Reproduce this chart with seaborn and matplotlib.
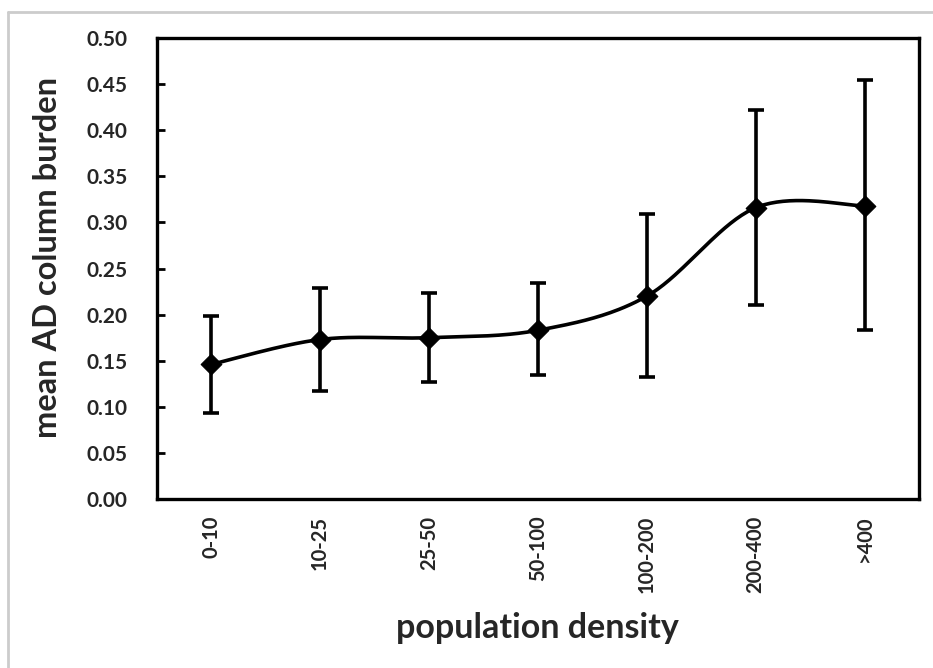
import numpy as np
import pandas as pd
import matplotlib
matplotlib.use("Agg")
import matplotlib.pyplot as plt
from matplotlib.lines import Line2D
import seaborn as sns

categories = ["0-10", "10-25", "25-50", "50-100", "100-200", "200-400", ">400"]
mean_burden = [0.146, 0.173, 0.175, 0.183, 0.220, 0.316, 0.318]
err_upper = [0.199, 0.229, 0.224, 0.234, 0.309, 0.422, 0.454]
err_lower = [0.093, 0.117, 0.127, 0.135, 0.132, 0.210, 0.183]
y_ticks = [0.00, 0.05, 0.10, 0.15, 0.20, 0.25, 0.30, 0.35, 0.40, 0.45, 0.50]

df = pd.DataFrame({"category": categories, "mean": mean_burden,
                   "hi": err_upper, "lo": err_lower})
df["pos"] = np.arange(len(df))

sns.set_theme(style="white")
FONT = ["Lato", "DejaVu Sans"]
plt.rcParams["font.family"] = FONT

fig = plt.figure(figsize=(9.33, 6.68), dpi=100)
ax = fig.add_axes([0.168, 0.253, 0.817, 0.690])

# smoothed line (Excel-style Catmull-Rom through the data points)
def smooth(xs, ys, n=40):
    xs = np.asarray(xs, float); ys = np.asarray(ys, float)
    px = np.concatenate([[xs[0]], xs, [xs[-1]]])
    py = np.concatenate([[ys[0]], ys, [ys[-1]]])
    ox, oy = [], []
    for i in range(1, len(px) - 2):
        p0 = np.array([px[i - 1], py[i - 1]]); p1 = np.array([px[i], py[i]])
        p2 = np.array([px[i + 1], py[i + 1]]); p3 = np.array([px[i + 2], py[i + 2]])
        c1 = p1 + (p2 - p0) / 6.0
        c2 = p2 - (p3 - p1) / 6.0
        t = np.linspace(0, 1, n)[:, None]
        b = ((1 - t) ** 3) * p1 + 3 * ((1 - t) ** 2) * t * c1 + 3 * (1 - t) * t ** 2 * c2 + t ** 3 * p2
        ox.extend(b[:, 0]); oy.extend(b[:, 1])
    return np.array(ox), np.array(oy)

sx, sy = smooth(df["pos"], df["mean"])
sns.lineplot(x=sx, y=sy, ax=ax, color="black", linewidth=2.6, sort=False, estimator=None)

ax.errorbar(df["pos"], df["mean"],
            yerr=[df["mean"] - df["lo"], df["hi"] - df["mean"]],
            fmt="none", ecolor="black", elinewidth=2.6, capsize=6, capthick=2.6, zorder=3)
sns.scatterplot(data=df, x="pos", y="mean", ax=ax, marker="D", s=110,
                color="black", edgecolor="black", zorder=4, legend=False)

ax.set_xlim(-0.5, len(categories) - 0.5)
ax.set_ylim(0, 0.5)
ax.set_yticks(y_ticks)
ax.set_yticklabels([f"{v:.2f}" for v in y_ticks], fontsize=15, fontweight="bold")
ax.set_xticks(df["pos"])
ax.set_xticklabels(categories, rotation=90, fontsize=14.5, fontweight="bold")
ax.set_xticks(np.arange(0.5, len(categories) - 0.5, 1), minor=True)
ax.tick_params(axis="x", which="major", length=0, pad=12)
ax.tick_params(axis="x", which="minor", direction="in", length=6, width=2, color="black")
ax.tick_params(axis="y", direction="in", length=6, width=2, color="black", pad=21, left=True)

for sp in ax.spines.values():
    sp.set_visible(True)
    sp.set_color("black")
    sp.set_linewidth(2.4)

ax.set_xlabel("population density", fontsize=24.5, fontweight="bold", labelpad=14)
ax.set_ylabel("mean AD column burden", fontsize=23.5, fontweight="bold", labelpad=10)
ax.yaxis.set_label_coords(-0.124, 0.525)

# light grey frame lines (top and left) like the source screenshot
fig.add_artist(Line2D([8 / 933, 8 / 933], [0, 1 - 12 / 668], transform=fig.transFigure,
                      color="#cccccc", linewidth=2))
fig.add_artist(Line2D([8 / 933, 1], [1 - 12 / 668, 1 - 12 / 668], transform=fig.transFigure,
                      color="#cccccc", linewidth=2))

fig.savefig("out.png", dpi=100)
